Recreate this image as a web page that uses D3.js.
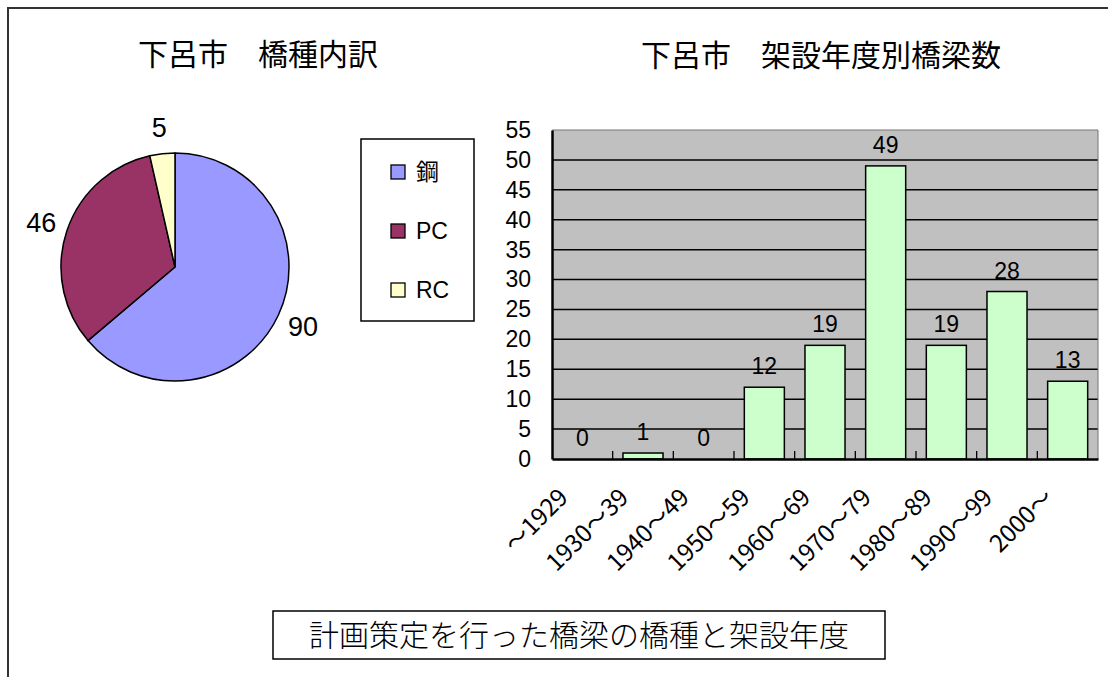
<!DOCTYPE html>
<html>
<head>
<meta charset="utf-8">
<script src="https://cdn.jsdelivr.net/npm/d3@7"></script>
<style>
  body { margin: 0; background: #fff; }
  svg { display: block; }
  .jp { font-family: "Noto Sans CJK JP", sans-serif; }
  .num { font-family: "Liberation Sans", "Noto Sans CJK JP", sans-serif; fill: #000; }
  .lab { font-family: "Noto Sans CJK JP", sans-serif; fill: #000; }
</style>
</head>
<body>
<svg id="chart" width="1108" height="677"></svg>
<script>
  // pie: bridge types
  var typeNames = ["鋼", "PC", "RC"];
  var typeCounts = [90, 46, 5];

  // bars: bridges by construction period
  var periods = ["～1929", "1930～39", "1940～49", "1950～59", "1960～69", "1970～79", "1980～89", "1990～99", "2000～"];
  var bridgeCounts = [0, 1, 0, 12, 19, 49, 19, 28, 13];
  var yTicks = [0, 5, 10, 15, 20, 25, 30, 35, 40, 45, 50, 55];

  var typeColors = ["#9999ff", "#993366", "#ffffcc"];

  var svg = d3.select("#chart");

  // outer frame (top + left only)
  svg.append("path")
      .attr("d", "M8,677 L8,8 L1108,8")
      .attr("fill", "none")
      .attr("stroke", "#333")
      .attr("stroke-width", 2);

  // titles
  svg.append("text").attr("class", "jp")
      .attr("x", 258).attr("y", 65)
      .attr("text-anchor", "middle")
      .style("font-size", "30px")
      .text("下呂市　橋種内訳");

  svg.append("text").attr("class", "jp")
      .attr("x", 821).attr("y", 66)
      .attr("text-anchor", "middle")
      .style("font-size", "30px")
      .text("下呂市　架設年度別橋梁数");

  // ---- pie ----
  var cx = 175, cy = 267, r = 114;
  var color = d3.scaleOrdinal().domain(typeNames).range(typeColors);
  var pieData = d3.pie().sort(null).value(d => d.v)(typeNames.map((n, i) => ({ n: n, v: typeCounts[i] })));
  var arc = d3.arc().innerRadius(0).outerRadius(r);
  var labelArc = d3.arc().innerRadius(141).outerRadius(141);

  var pieG = svg.append("g").attr("transform", "translate(" + cx + "," + cy + ")");
  pieG.selectAll("path").data(pieData).enter().append("path")
      .attr("d", arc)
      .attr("fill", d => color(d.data.n))
      .attr("stroke", "#000")
      .attr("stroke-width", 1.5)
      .attr("stroke-linejoin", "round");

  pieG.selectAll("text").data(pieData).enter().append("text")
      .attr("class", "num")
      .attr("transform", d => "translate(" + labelArc.centroid(d) + ")")
      .attr("text-anchor", "middle")
      .attr("dy", "0.36em")
      .style("font-size", "27px")
      .text(d => d.data.v);

  // legend
  var lg = svg.append("g").attr("transform", "translate(361,139)");
  lg.append("rect").attr("width", 113).attr("height", 182)
      .attr("fill", "#fff").attr("stroke", "#000").attr("stroke-width", 1.5);
  var items = lg.selectAll("g.item").data(typeNames).enter().append("g")
      .attr("class", "item")
      .attr("transform", (d, i) => "translate(30," + (33 + i * 59) + ")");
  items.append("rect")
      .attr("x", 0).attr("y", -7).attr("width", 14).attr("height", 14)
      .attr("fill", d => color(d)).attr("stroke", "#000").attr("stroke-width", 1.3);
  items.append("text")
      .attr("x", 25).attr("dy", "0.36em")
      .style("font-family", "\"Liberation Sans\", \"Noto Sans CJK JP\", sans-serif")
      .style("font-size", "23px")
      .text(d => d);

  // ---- bars ----
  var x0 = 552, x1 = 1098, yTop = 130, yBot = 459;
  var x = d3.scaleBand().domain(periods).range([x0, x1]).padding(0);
  var y = d3.scaleLinear().domain([0, 55]).range([yBot, yTop]);
  var barW = x.bandwidth() * 0.66;

  svg.append("rect")
      .attr("x", x0).attr("y", yTop)
      .attr("width", x1 - x0).attr("height", yBot - yTop)
      .attr("fill", "#c0c0c0");

  // gridlines
  svg.append("g").selectAll("line").data(yTicks.filter(t => t > 0)).enter().append("line")
      .attr("x1", x0).attr("x2", x1)
      .attr("y1", d => y(d)).attr("y2", d => y(d))
      .attr("stroke", d => d === 55 ? "#777" : "#000")
      .attr("stroke-width", d => d === 55 ? 1 : 1.5);
  svg.append("line")
      .attr("x1", x1).attr("x2", x1).attr("y1", yTop).attr("y2", yBot)
      .attr("stroke", "#777").attr("stroke-width", 1);

  svg.append("g").selectAll("rect").data(bridgeCounts).enter().append("rect")
      .attr("x", (d, i) => x(periods[i]) + (x.bandwidth() - barW) / 2)
      .attr("y", d => y(d))
      .attr("width", barW)
      .attr("height", d => y(0) - y(d))
      .attr("fill", "#ccffcc")
      .attr("stroke", "#000")
      .attr("stroke-width", 1.5);

  // value labels
  svg.append("g").selectAll("text").data(bridgeCounts).enter().append("text")
      .attr("class", "num")
      .attr("x", (d, i) => x(periods[i]) + x.bandwidth() / 2)
      .attr("y", d => y(d) - 13)
      .attr("text-anchor", "middle")
      .style("font-size", "23px")
      .text(d => d);

  // y axis
  var yAxis = svg.append("g")
      .attr("transform", "translate(" + x0 + ",0)")
      .call(d3.axisLeft(y).tickValues(yTicks).tickSize(0).tickPadding(21));
  yAxis.select(".domain").attr("stroke", "#000").attr("stroke-width", 2.5);
  yAxis.selectAll("text").attr("class", "num").style("font-size", "23px");

  // x axis: baseline + short inward ticks at category boundaries
  var xAxis = svg.append("g")
      .attr("transform", "translate(0," + yBot + ")")
      .call(d3.axisBottom(x).tickSize(0).tickFormat(""));
  xAxis.select(".domain").attr("stroke", "#000").attr("stroke-width", 2.5);
  xAxis.selectAll("line.bound").data(periods.slice(1)).enter().append("line")
      .attr("class", "bound")
      .attr("x1", d => x(d)).attr("x2", d => x(d))
      .attr("y1", 0).attr("y2", -8)
      .attr("stroke", "#000").attr("stroke-width", 1.3);

  xAxis.selectAll("text.lab").data(periods).enter().append("text")
      .attr("class", "lab")
      .attr("transform", d => "translate(" + (x(d) + x.bandwidth() / 2 - 13) + ",40) rotate(-45)")
      .attr("text-anchor", "end")
      .style("font-size", "24px")
      .text(d => d);

  // caption box
  var cap = svg.append("g");
  cap.append("rect")
      .attr("x", 273).attr("y", 611).attr("width", 612).attr("height", 48)
      .attr("fill", "#fff").attr("stroke", "#000").attr("stroke-width", 1.5);
  cap.append("text").attr("class", "jp")
      .attr("x", 579).attr("y", 646)
      .attr("text-anchor", "middle")
      .style("font-size", "30px")
      .style("font-weight", 300)
      .text("計画策定を行った橋梁の橋種と架設年度");
</script>
</body>
</html>
